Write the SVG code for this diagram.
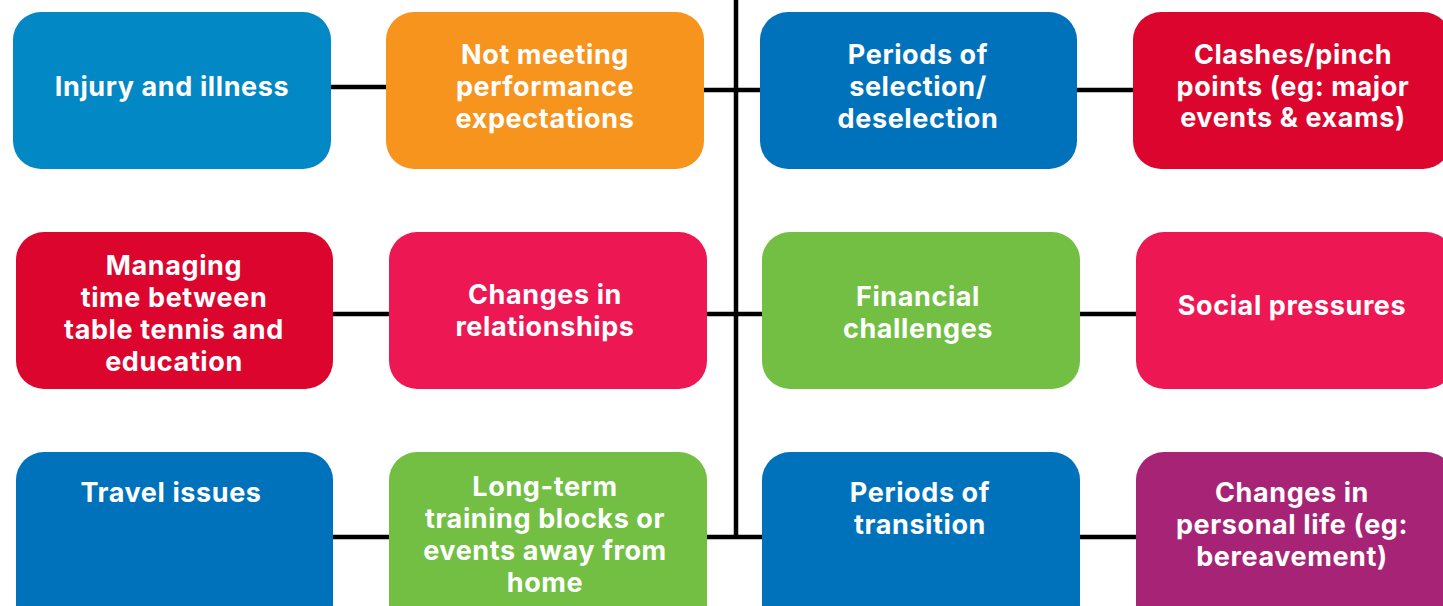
<svg xmlns="http://www.w3.org/2000/svg" width="1443" height="606" viewBox="0 0 1443 606">
<style>
.c{stroke:#000;stroke-width:4.5;fill:none}
.n{stroke:none}
.t{font-family:Inter,"Open Sans","Liberation Sans",sans-serif;font-weight:700;font-size:27px;letter-spacing:0.6px;fill:#fff;text-anchor:middle}
.b1{fill:#0288C4}.b2{fill:#0072BC}.or{fill:#F7941D}.rd{fill:#DC052D}.pk{fill:#ED1754}.gr{fill:#72BF44}.pu{fill:#A62376}
</style>
<rect width="1443" height="606" fill="#fff"/>
<g id="connectors">
<line class="c" x1="736" y1="0" x2="736" y2="539"/>
<line class="c" x1="320" y1="87" x2="400" y2="87"/>
<line class="c" x1="690" y1="90" x2="1145" y2="90"/>
<line class="c" x1="320" y1="314" x2="1145" y2="314"/>
<line class="c" x1="320" y1="537" x2="1145" y2="537"/>
</g>
<g id="n1"><rect class="n b1" x="13" y="12" width="318" height="157" rx="28"/><text class="t" x="172" y="96">Injury and illness</text></g>
<g id="n2"><rect class="n or" x="386" y="12" width="318" height="157" rx="28"/><text class="t" x="545" y="64">Not meeting</text><text class="t" x="545" y="96">performance</text><text class="t" x="545" y="128">expectations</text></g>
<g id="n3"><rect class="n b2" x="760" y="12" width="317" height="157" rx="28"/><text class="t" x="918" y="64">Periods of</text><text class="t" x="918" y="96">selection/</text><text class="t" x="918" y="128">deselection</text></g>
<g id="n4"><rect class="n rd" x="1133" y="12" width="318" height="157" rx="28"/><text class="t" x="1293" y="64">Clashes/pinch</text><text class="t" x="1293" y="96">points (eg: major</text><text class="t" x="1293" y="127">events &amp; exams)</text></g>
<g id="n5"><rect class="n rd" x="16" y="232" width="317" height="157" rx="28"/><text class="t" x="174" y="275">Managing</text><text class="t" x="174" y="307">time between</text><text class="t" x="174" y="339">table tennis and</text><text class="t" x="174" y="371">education</text></g>
<g id="n6"><rect class="n pk" x="389" y="232" width="318" height="157" rx="28"/><text class="t" x="545" y="304">Changes in</text><text class="t" x="545" y="336">relationships</text></g>
<g id="n7"><rect class="n gr" x="762" y="232" width="318" height="157" rx="28"/><text class="t" x="918" y="306">Financial</text><text class="t" x="918" y="338">challenges</text></g>
<g id="n8"><rect class="n pk" x="1136" y="232" width="318" height="157" rx="28"/><text class="t" x="1292" y="315">Social pressures</text></g>
<g id="n9"><rect class="n b2" x="16" y="452" width="317" height="180" rx="28"/><text class="t" x="171" y="502">Travel issues</text></g>
<g id="n10"><rect class="n gr" x="389" y="452" width="318" height="180" rx="28"/><text class="t" x="545" y="496">Long-term</text><text class="t" x="545" y="528">training blocks or</text><text class="t" x="545" y="560">events away from</text><text class="t" x="545" y="592">home</text></g>
<g id="n11"><rect class="n b2" x="762" y="452" width="318" height="180" rx="28"/><text class="t" x="920" y="502">Periods of</text><text class="t" x="920" y="534">transition</text></g>
<g id="n12"><rect class="n pu" x="1136" y="452" width="318" height="180" rx="28"/><text class="t" x="1292" y="502">Changes in</text><text class="t" x="1292" y="534">personal life (eg:</text><text class="t" x="1292" y="566">bereavement)</text></g>
</svg>
